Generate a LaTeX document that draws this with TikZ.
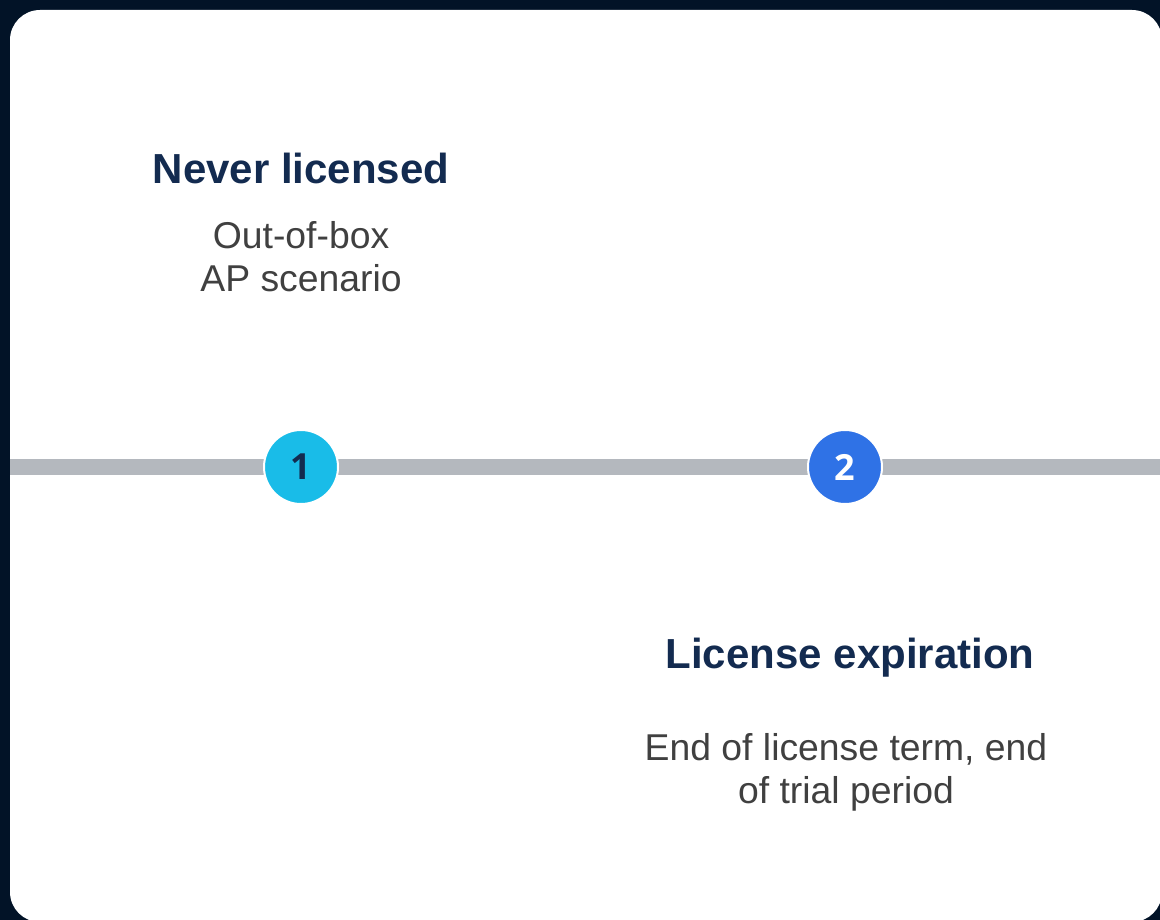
\documentclass[tikz,border=0pt]{standalone}
\usepackage{fontspec}
\setmainfont{Liberation Sans}
\newfontfamily\numfont{Open Sans}
\definecolor{bgnavy}{HTML}{021327}
\definecolor{titlenavy}{HTML}{132B50}
\definecolor{bodygray}{HTML}{404040}
\definecolor{linegray}{HTML}{B4B8BE}
\definecolor{cyanstep}{HTML}{19BCE8}
\definecolor{bluestep}{HTML}{2F72E6}
\begin{document}
\begin{tikzpicture}[x=0.75pt,y=-0.75pt,
  titletext/.style={font=\fontsize{31.5}{36}\selectfont\bfseries, text=titlenavy, inner sep=0pt, anchor=base},
  bodytext/.style={font=\fontsize{28}{32}\selectfont, text=bodygray, inner sep=0pt, align=center, anchor=base},
  stepdot/.style={circle, draw=white, line width=1.5pt, inner sep=0pt, minimum size=55.5pt,
    font=\numfont\fontsize{27}{30}\selectfont\bfseries}
]
\useasboundingbox (0,0) rectangle (1160,920);
\fill[bgnavy] (0,0) rectangle (1160,920);
\begin{scope}
\clip (0,0) rectangle (1160,920);
\fill[white, rounded corners=22.5pt] (10,10) rectangle (1162,922);
\end{scope}
\coordinate (lstart) at (10,467);
\coordinate (lend) at (1160,467);
\draw[linegray, line width=12pt] (lstart) -- (lend);
\node[stepdot, fill=cyanstep, text=titlenavy] (s1) at (301,467) {1};
\node[stepdot, fill=bluestep, text=white] (s2) at (845,467) {2};
\node[titletext] (t1) at (301,184) {Never licensed};
\node[bodytext] (b1) at (301,291) {Out-of-box\\AP scenario};
\node[titletext] (t2) at (850,668) {License expiration};
\node[bodytext] (b2) at (846,803) {End of license term, end\\of trial period};
\end{tikzpicture}
\end{document}
